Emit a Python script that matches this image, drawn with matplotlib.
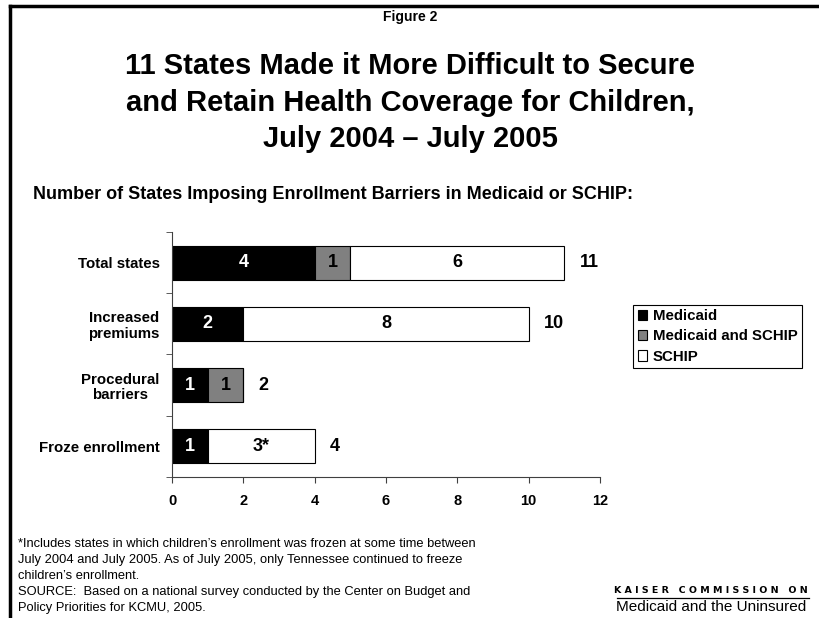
import matplotlib
matplotlib.use("Agg")
import matplotlib.pyplot as plt
from matplotlib.lines import Line2D
from matplotlib.patches import Patch

categories = ["Total states", "Increased\npremiums", "Procedural\nbarriers", "Froze enrollment"]
medicaid = [4, 2, 1, 1]
both = [1, 0, 1, 0]
schip = [6, 8, 0, 3]
totals = [11, 10, 2, 4]
schip_labels = ["6", "8", "", "3*"]
xticks = [0, 2, 4, 6, 8, 10, 12]

plt.rcParams["font.family"] = ["Liberation Sans", "DejaVu Sans"]

fig = plt.figure(figsize=(8.2, 6.18), dpi=100)

# frame on top and left edges
fig.add_artist(Line2D([0.012, 1.0], [0.990, 0.990], color="black", lw=2.5, transform=fig.transFigure))
fig.add_artist(Line2D([0.012, 0.012], [0.0, 0.990], color="black", lw=2.5, transform=fig.transFigure))

fig.text(0.5, 0.972, "Figure 2", ha="center", va="center", fontsize=10, fontweight="bold")
fig.text(0.5, 0.834, "11 States Made it More Difficult to Secure\nand Retain Health Coverage for Children,\nJuly 2004 \u2013 July 2005",
         ha="center", va="center", fontsize=21, fontweight="bold", linespacing=1.38)
fig.text(0.040, 0.686, "Number of States Imposing Enrollment Barriers in Medicaid or SCHIP:",
         ha="left", va="center", fontsize=13, fontweight="bold")

ax = fig.add_axes([0.2098, 0.2282, 0.5220, 0.3964])
ypos = [3, 2, 1, 0]
h = 0.555
ax.barh(ypos, medicaid, height=h, color="black", edgecolor="black", lw=0.8)
ax.barh(ypos, both, left=medicaid, height=h, color="#808080", edgecolor="black", lw=0.8)
left2 = [m + b for m, b in zip(medicaid, both)]
ax.barh(ypos, schip, left=left2, height=h, color="white", edgecolor="black", lw=0.8)

for y, m, b, s, sl, t, l2 in zip(ypos, medicaid, both, schip, schip_labels, totals, left2):
    ax.text(m / 2, y, str(m), ha="center", va="center", color="white", fontsize=13, fontweight="bold")
    if b:
        ax.text(m + b / 2, y, str(b), ha="center", va="center", color="black", fontsize=13, fontweight="bold")
    if s:
        ax.text(l2 + s / 2, y, sl, ha="center", va="center", color="black", fontsize=13, fontweight="bold")
    ax.annotate(str(t), (t, y), xytext=(11, 0), textcoords="offset points",
                ha="left", va="center", fontsize=13, fontweight="bold")

ax.set_xlim(0, 12)
ax.set_ylim(-0.5, 3.5)
ax.set_xticks(xticks)
ax.set_xticklabels([str(v) for v in xticks], fontsize=10.5, fontweight="bold")
ax.set_yticks(ypos)
ax.set_yticklabels(categories, fontsize=10.8, fontweight="bold", linespacing=1.15)
ax.set_yticks([-0.5, 0.5, 1.5, 2.5, 3.5], minor=True)
ax.tick_params(axis="y", which="major", length=0, pad=9)
ax.tick_params(axis="y", which="minor", length=4, direction="out", color="#404040")
ax.tick_params(axis="x", length=4, direction="out", color="#404040", pad=8)
for lab in ax.get_yticklabels():
    lab.set_multialignment("center")
for side in ["top", "right"]:
    ax.spines[side].set_visible(False)
for side in ["left", "bottom"]:
    ax.spines[side].set_color("#404040")

handles = [Patch(facecolor="black", edgecolor="black", lw=0.8),
           Patch(facecolor="#808080", edgecolor="black", lw=0.8),
           Patch(facecolor="white", edgecolor="black", lw=0.8)]
leg = fig.legend(handles, ["Medicaid", "Medicaid and SCHIP", "SCHIP"], loc="upper left",
                 bbox_to_anchor=(0.772, 0.507), fancybox=False, framealpha=1, edgecolor="black",
                 prop={"weight": "bold", "size": 10.8}, handlelength=0.65, handleheight=0.65,
                 handletextpad=0.35, labelspacing=0.42, borderpad=0.3, borderaxespad=0)
leg.get_frame().set_linewidth(0.8)

fig.text(0.022, 0.130, "*Includes states in which children\u2019s enrollment was frozen at some time between\n"
         "July 2004 and July 2005. As of July 2005, only Tennessee continued to freeze\n"
         "children\u2019s enrollment.\n"
         "SOURCE:  Based on a national survey conducted by the Center on Budget and\n"
         "Policy Priorities for KCMU, 2005.",
         ha="left", va="top", fontsize=9.3, linespacing=1.45)

fig.text(0.867, 0.045, "K A I S E R   C O M M I S S I O N   O N", ha="center", va="center",
         fontsize=6.8, fontweight="bold", family=["DejaVu Sans"])
fig.add_artist(Line2D([0.752, 0.986], [0.033, 0.033], color="black", lw=0.9, transform=fig.transFigure))
fig.text(0.867, 0.017, "Medicaid and the Uninsured", ha="center", va="center", fontsize=11)

fig.savefig("out.png", dpi=100)
